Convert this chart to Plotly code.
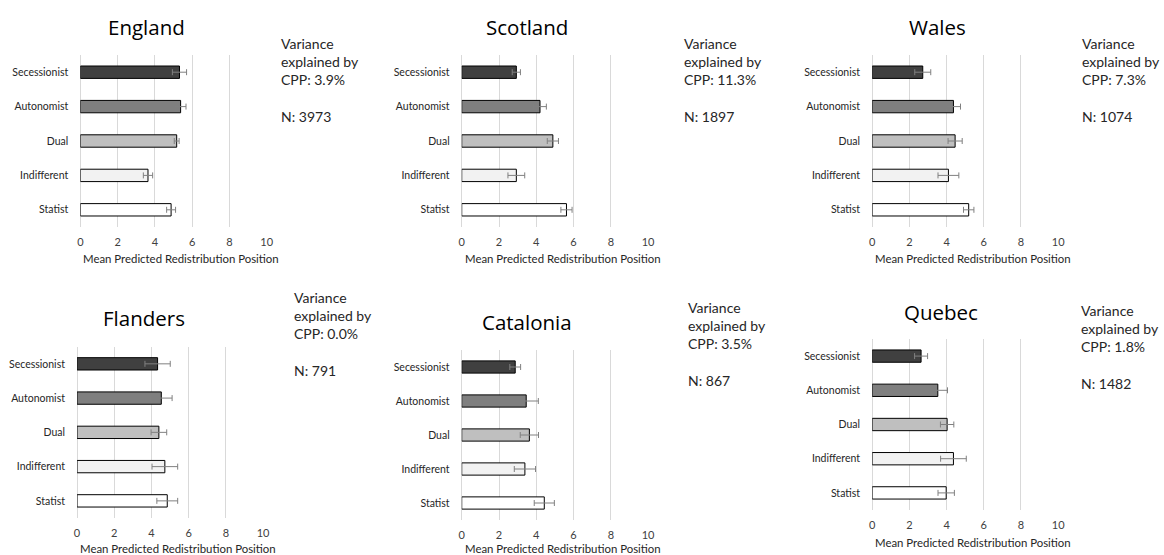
import plotly.graph_objects as go

categories = ["Secessionist", "Autonomist", "Dual", "Indifferent", "Statist"]
bar_colors = ["#404040", "#7f7f7f", "#bfbfbf", "#f2f2f2", "#ffffff"]

regions = ["England", "Scotland", "Wales", "Flanders", "Catalonia", "Quebec"]
variance_pct = ["3.9%", "11.3%", "7.3%", "0.0%", "3.5%", "1.8%"]
sample_n = [3973, 1897, 1074, 791, 867, 1482]

england_mean = [5.32, 5.38, 5.17, 3.63, 4.87]
england_err = [0.38, 0.29, 0.13, 0.25, 0.24]
scotland_mean = [2.93, 4.20, 4.89, 2.93, 5.62]
scotland_err = [0.22, 0.34, 0.30, 0.45, 0.30]
wales_mean = [2.72, 4.37, 4.46, 4.10, 5.19]
wales_err = [0.43, 0.38, 0.38, 0.56, 0.28]
flanders_mean = [4.33, 4.53, 4.40, 4.72, 4.85]
flanders_err = [0.68, 0.58, 0.42, 0.69, 0.56]
catalonia_mean = [2.87, 3.46, 3.63, 3.39, 4.43]
catalonia_err = [0.29, 0.65, 0.49, 0.57, 0.54]
quebec_mean = [2.63, 3.53, 4.03, 4.37, 3.98]
quebec_err = [0.35, 0.52, 0.36, 0.69, 0.44]

x_ticks = [0, 2, 4, 6, 8, 10]
x_title = "Mean Predicted Redistribution Position"

means = [england_mean, scotland_mean, wales_mean, flanders_mean, catalonia_mean, quebec_mean]
errs = [england_err, scotland_err, wales_err, flanders_err, catalonia_err, quebec_err]

W, H = 1164, 555
FONT = "Lato"
TITLE_FONT = "Open Sans"

# layout geometry (pixels): plot area left, right, top, bottom
plot_boxes = [
    (78, 266, 55, 227),
    (462.7, 650.7, 55, 227),
    (876.7, 1064.3, 55, 227),
    (74.7, 262.3, 346.7, 518),
    (462.7, 650.7, 350, 520),
    (876.7, 1064.3, 339, 510),
]
title_pos = [(145, 27), (529, 27), (943, 27), (142, 318), (529, 322), (946, 312)]
xtitle_pos = [(180, 258), (565, 258), (978, 258), (177, 548), (565, 548), (978, 542)]
note_pos = [(278, 33), (685, 33), (1086, 33), (291, 287), (689, 297), (1085, 300)]

fig = go.Figure()
annotations = []

for i, region in enumerate(regions):
    ax = "" if i == 0 else str(i + 1)
    fig.add_trace(go.Bar(
        x=means[i], y=categories, orientation="h",
        marker=dict(color=bar_colors, line=dict(color="#000000", width=1)),
        error_x=dict(type="data", array=errs[i], color="#808080", thickness=1, width=3),
        xaxis="x" + ax, yaxis="y" + ax, showlegend=False,
    ))
    l, r, t, b = plot_boxes[i]
    fig.update_layout(**{
        "xaxis" + ax: dict(
            domain=[l / W, r / W], range=[0, 10], tickvals=x_ticks,
            showgrid=True, gridcolor="#d9d9d9", gridwidth=1,
            zeroline=True, zerolinecolor="#d9d9d9", zerolinewidth=1,
            showline=False, ticks="outside", ticklen=5, tickcolor="rgba(0,0,0,0)",
            tickfont=dict(family=FONT, size=11, color="#404040"),
            anchor="y" + ax, fixedrange=True,
        ),
        "yaxis" + ax: dict(
            domain=[1 - b / H, 1 - t / H], type="category",
            categoryorder="array", categoryarray=categories, autorange="reversed",
            showgrid=False, zeroline=False, showline=False,
            ticks="outside", ticklen=9, tickcolor="rgba(0,0,0,0)",
            tickfont=dict(family=FONT, size=10.5, color="#262626"),
            anchor="x" + ax, fixedrange=True,
        ),
    })
    tx, ty = title_pos[i]
    annotations.append(dict(
        text=region, x=tx / W, y=1 - ty / H, xref="paper", yref="paper",
        xanchor="center", yanchor="middle", showarrow=False,
        font=dict(family=TITLE_FONT, size=20.5, color="#000000"),
    ))
    xx, xy = xtitle_pos[i]
    annotations.append(dict(
        text=x_title, x=xx / W, y=1 - xy / H, xref="paper", yref="paper",
        xanchor="center", yanchor="middle", showarrow=False,
        font=dict(family=FONT, size=11.4, color="#262626"),
    ))
    nx, ny = note_pos[i]
    annotations.append(dict(
        text="Variance<br>explained by<br>CPP: %s<br><br>N: %d" % (variance_pct[i], sample_n[i]),
        x=nx / W, y=1 - ny / H, xref="paper", yref="paper",
        xanchor="left", yanchor="top", align="left", showarrow=False,
        font=dict(family=FONT, size=14, color="#262626"),
    ))

fig.update_layout(
    width=W, height=H, margin=dict(l=0, r=0, t=0, b=0),
    paper_bgcolor="#ffffff", plot_bgcolor="#ffffff",
    bargap=0.64, annotations=annotations, font=dict(family=FONT),
)

fig.write_html("out.html", config={"displayModeBar": False})
